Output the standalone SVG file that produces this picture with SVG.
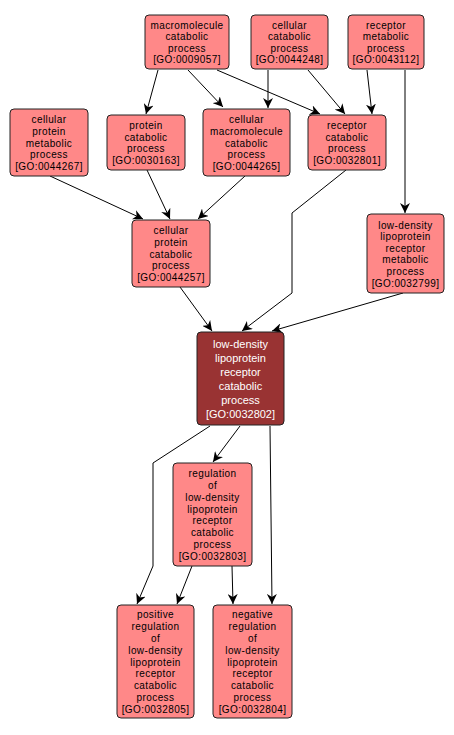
<svg xmlns="http://www.w3.org/2000/svg" width="454" height="735" viewBox="0 0 454 735">
<style>
.n rect{fill:#ff8888;stroke:#222;stroke-width:1}
.n text{font-family:"Liberation Sans",Arial,sans-serif;font-size:10px;letter-spacing:0.4px;fill:#000;text-anchor:middle}
#n10 rect{fill:#993333}
#n10 text{fill:#fff;font-size:11px;letter-spacing:0}
.e path{fill:none;stroke:#000;stroke-width:1;marker-end:url(#a)}
</style>
<defs>
<marker id="a" viewBox="0 0 10 10" markerUnits="userSpaceOnUse" markerWidth="10" markerHeight="10" refX="10" refY="5" orient="auto">
<path d="M0,0 L10,5 L0,10 L3,5 Z" fill="#000"/>
</marker>
</defs>
<rect width="454" height="735" fill="#fff"/>
<g class="e">
<path d="M158,70 L146,114"/>
<path d="M188,70 L223,107"/>
<path d="M217,70 L320,114"/>
<path d="M268,70 L268,108"/>
<path d="M308,70 L345,114"/>
<path d="M367,70 L372,114"/>
<path d="M405,70 L405,213"/>
<path d="M50,176 L143,219"/>
<path d="M147,170 L170,219"/>
<path d="M245,176 L198,219"/>
<path d="M346,170 L292,213 L292,293 L242,331"/>
<path d="M180,287 L212,331"/>
<path d="M403,293 L272,331"/>
<path d="M210,426 L153,463 L153,566 L137,604"/>
<path d="M240,426 L213,462"/>
<path d="M270,426 L272,604"/>
<path d="M192,566 L177,604"/>
<path d="M232,566 L233,604"/>
</g>
<g id="n1" class="n"><rect x="145" y="15" width="84" height="54" rx="4"/><text><tspan x="187" y="28.6">macromolecule</tspan><tspan x="187" dy="11.6">catabolic</tspan><tspan x="187" dy="11.6">process</tspan><tspan x="187" dy="11.6">[GO:0009057]</tspan></text></g>
<g id="n2" class="n"><rect x="251" y="15" width="77" height="54" rx="4"/><text><tspan x="289.5" y="28.6">cellular</tspan><tspan x="289.5" dy="11.6">catabolic</tspan><tspan x="289.5" dy="11.6">process</tspan><tspan x="289.5" dy="11.6">[GO:0044248]</tspan></text></g>
<g id="n3" class="n"><rect x="348" y="15" width="76" height="54" rx="4"/><text><tspan x="386" y="28.6">receptor</tspan><tspan x="386" dy="11.6">metabolic</tspan><tspan x="386" dy="11.6">process</tspan><tspan x="386" dy="11.6">[GO:0043112]</tspan></text></g>
<g id="n4" class="n"><rect x="10" y="109" width="78" height="67" rx="4"/><text><tspan x="49" y="123.3">cellular</tspan><tspan x="49" dy="11.6">protein</tspan><tspan x="49" dy="11.6">metabolic</tspan><tspan x="49" dy="11.6">process</tspan><tspan x="49" dy="11.6">[GO:0044267]</tspan></text></g>
<g id="n5" class="n"><rect x="107" y="115" width="78" height="55" rx="4"/><text><tspan x="146" y="129.1">protein</tspan><tspan x="146" dy="11.6">catabolic</tspan><tspan x="146" dy="11.6">process</tspan><tspan x="146" dy="11.6">[GO:0030163]</tspan></text></g>
<g id="n6" class="n"><rect x="203" y="109" width="87" height="67" rx="4"/><text><tspan x="246.5" y="123.3">cellular</tspan><tspan x="246.5" dy="11.6">macromolecule</tspan><tspan x="246.5" dy="11.6">catabolic</tspan><tspan x="246.5" dy="11.6">process</tspan><tspan x="246.5" dy="11.6">[GO:0044265]</tspan></text></g>
<g id="n7" class="n"><rect x="308" y="115" width="78" height="55" rx="4"/><text><tspan x="347" y="129.1">receptor</tspan><tspan x="347" dy="11.6">catabolic</tspan><tspan x="347" dy="11.6">process</tspan><tspan x="347" dy="11.6">[GO:0032801]</tspan></text></g>
<g id="n8" class="n"><rect x="132" y="220" width="78" height="67" rx="4"/><text><tspan x="171" y="234.3">cellular</tspan><tspan x="171" dy="11.6">protein</tspan><tspan x="171" dy="11.6">catabolic</tspan><tspan x="171" dy="11.6">process</tspan><tspan x="171" dy="11.6">[GO:0044257]</tspan></text></g>
<g id="n9" class="n"><rect x="367" y="214" width="77" height="79" rx="4"/><text><tspan x="405.5" y="228.5">low-density</tspan><tspan x="405.5" dy="11.6">lipoprotein</tspan><tspan x="405.5" dy="11.6">receptor</tspan><tspan x="405.5" dy="11.6">metabolic</tspan><tspan x="405.5" dy="11.6">process</tspan><tspan x="405.5" dy="11.6">[GO:0032799]</tspan></text></g>
<g id="n10" class="n"><rect x="197" y="332" width="87" height="93" rx="4"/><text><tspan x="240.5" y="348">low-density</tspan><tspan x="240.5" dy="14">lipoprotein</tspan><tspan x="240.5" dy="14">receptor</tspan><tspan x="240.5" dy="14">catabolic</tspan><tspan x="240.5" dy="14">process</tspan><tspan x="240.5" dy="14">[GO:0032802]</tspan></text></g>
<g id="n11" class="n"><rect x="173" y="463" width="79" height="103" rx="4"/><text><tspan x="212.5" y="477.2">regulation</tspan><tspan x="212.5" dy="11.8">of</tspan><tspan x="212.5" dy="11.8">low-density</tspan><tspan x="212.5" dy="11.8">lipoprotein</tspan><tspan x="212.5" dy="11.8">receptor</tspan><tspan x="212.5" dy="11.8">catabolic</tspan><tspan x="212.5" dy="11.8">process</tspan><tspan x="212.5" dy="11.8">[GO:0032803]</tspan></text></g>
<g id="n12" class="n"><rect x="117" y="605" width="77" height="113" rx="4"/><text><tspan x="155.5" y="618.3">positive</tspan><tspan x="155.5" dy="11.8">regulation</tspan><tspan x="155.5" dy="11.8">of</tspan><tspan x="155.5" dy="11.8">low-density</tspan><tspan x="155.5" dy="11.8">lipoprotein</tspan><tspan x="155.5" dy="11.8">receptor</tspan><tspan x="155.5" dy="11.8">catabolic</tspan><tspan x="155.5" dy="11.8">process</tspan><tspan x="155.5" dy="11.8">[GO:0032805]</tspan></text></g>
<g id="n13" class="n"><rect x="213" y="605" width="79" height="113" rx="4"/><text><tspan x="252.5" y="618.3">negative</tspan><tspan x="252.5" dy="11.8">regulation</tspan><tspan x="252.5" dy="11.8">of</tspan><tspan x="252.5" dy="11.8">low-density</tspan><tspan x="252.5" dy="11.8">lipoprotein</tspan><tspan x="252.5" dy="11.8">receptor</tspan><tspan x="252.5" dy="11.8">catabolic</tspan><tspan x="252.5" dy="11.8">process</tspan><tspan x="252.5" dy="11.8">[GO:0032804]</tspan></text></g>
</svg>
